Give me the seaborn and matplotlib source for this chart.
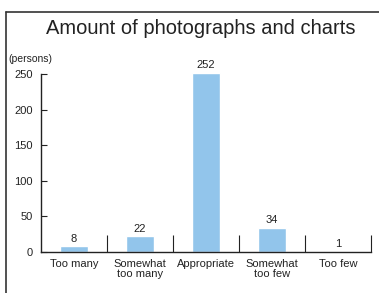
import matplotlib
matplotlib.use("Agg")
import matplotlib.pyplot as plt
from matplotlib.lines import Line2D
import seaborn as sns

# --- data ---
categories = ["Too many", "Somewhat\ntoo many", "Appropriate", "Somewhat\ntoo few", "Too few"]
values = [8, 22, 252, 34, 1]
y_ticks = [0, 50, 100, 150, 200, 250]

sns.set_style("white")
plt.rcParams["font.family"] = ["Liberation Sans", "DejaVu Sans"]

fig = plt.figure(figsize=(3.79, 2.93), dpi=100)
ax = fig.add_axes([41 / 379, 41 / 293, 330 / 379, 178 / 293])

sns.barplot(x=categories, y=values, color="#92C5EB", width=0.42,
            saturation=1, ax=ax)
for p in ax.patches:
    p.set_clip_on(False)

# value labels (annotations must not be clipped - 252 sits above ylim)
anns = ax.bar_label(ax.containers[0], labels=[str(v) for v in values],
                    padding=2, fontsize=8, color="#222222")
for a in anns:
    a.set_annotation_clip(False)
    a.set_clip_on(False)

ax.set_xlim(-0.5, 4.5)
ax.set_ylim(0, 250)
ax.set_yticks(y_ticks)
ax.set_ylabel("")

# spines
for s in ["top", "right"]:
    ax.spines[s].set_visible(False)
for s in ["left", "bottom"]:
    ax.spines[s].set_color("#222222")
    ax.spines[s].set_linewidth(1.0)

# ticks: y inward, x ticks at category boundaries
ax.tick_params(axis="y", direction="in", length=4, width=0.8,
               color="#222222", labelsize=8, pad=6, left=True)
ax.tick_params(axis="x", length=0, labelsize=8, pad=5)
ax.set_xticks([i + 0.5 for i in range(len(categories))], minor=True)
ax.tick_params(axis="x", which="minor", direction="in", length=12,
               width=0.8, color="#222222", bottom=True)
for lab in ax.get_xticklabels() + ax.get_yticklabels():
    lab.set_color("#222222")
for lab in ax.get_xticklabels():
    lab.set_linespacing(1.0)

# titles
fig.text(201 / 379, 1 - 29 / 293, "Amount of photographs and charts",
         ha="center", va="center", fontsize=14.5, color="#222222")
fig.text(8 / 379, 1 - 59 / 293, "(persons)", ha="left", va="center",
         fontsize=7.5, color="#222222")

# frame lines (top and left)
fig.add_artist(Line2D([6 / 379, 1], [1 - 12 / 293, 1 - 12 / 293],
                      transform=fig.transFigure, color="#333333", lw=1.2))
fig.add_artist(Line2D([6 / 379, 6 / 379], [0, 1 - 12 / 293],
                      transform=fig.transFigure, color="#333333", lw=1.2))

fig.savefig("out.png", dpi=100)
